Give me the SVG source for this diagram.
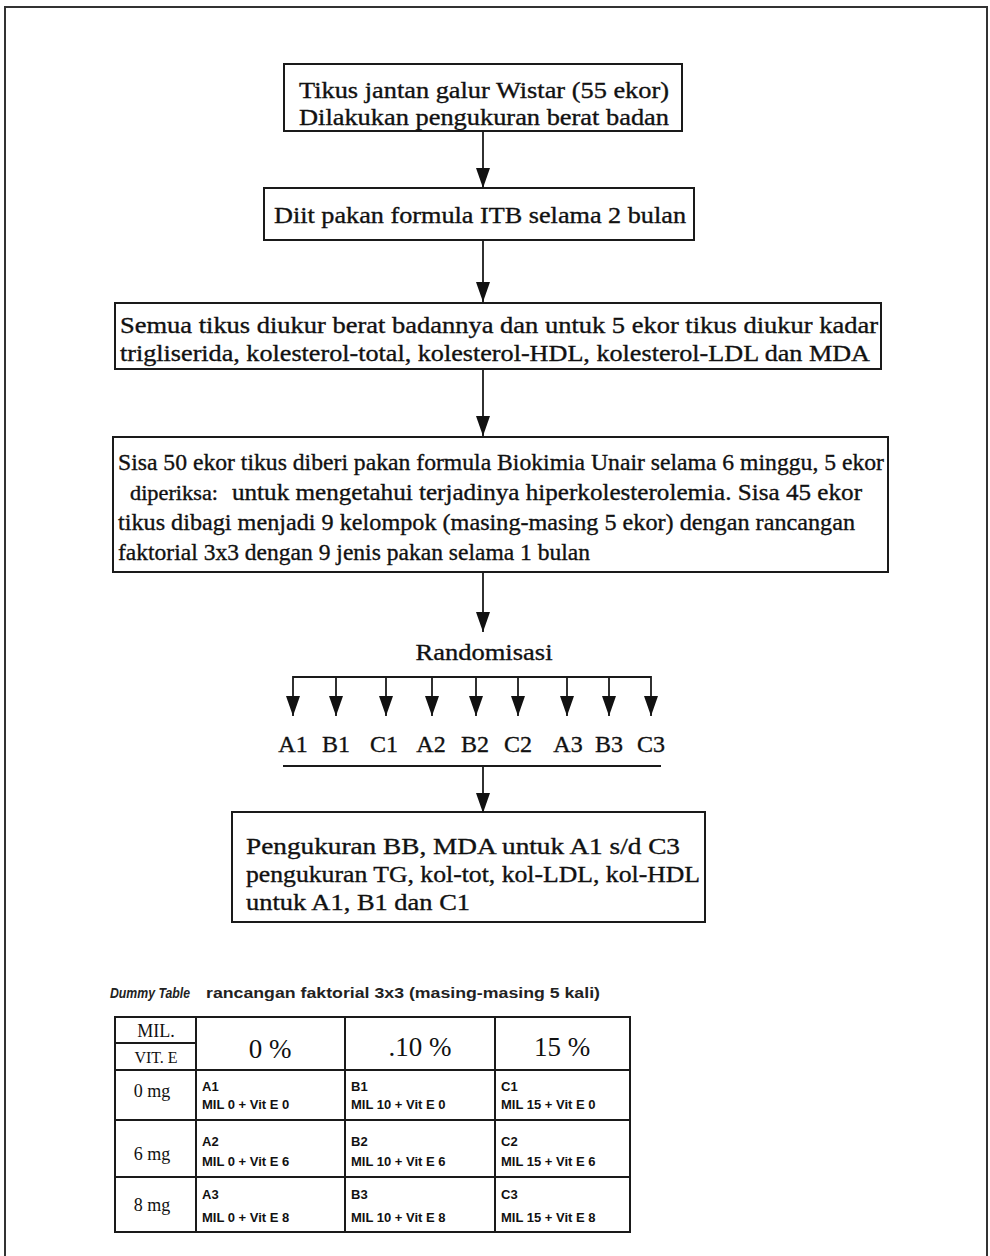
<svg xmlns="http://www.w3.org/2000/svg" width="990" height="1256" viewBox="0 0 990 1256">
<defs>
<style>
.bx{fill:#fff;stroke:#1a1a1a;stroke-width:2}
.t{font-family:"Liberation Serif","Times New Roman",serif;font-size:24px;fill:#111;stroke:#111;stroke-width:0.35}
.tc{text-anchor:middle}
.ln{stroke:#1a1a1a;stroke-width:1.8;fill:none}
.cap{font-family:"Liberation Sans",Arial,sans-serif;font-size:14px;font-weight:bold;fill:#222}
.tb{stroke:#1a1a1a;stroke-width:2;fill:none}
.hd{font-family:"Liberation Serif","Times New Roman",serif;font-size:27px;fill:#111;text-anchor:middle}
.rl{font-family:"Liberation Serif","Times New Roman",serif;font-size:18px;fill:#111;text-anchor:middle}
.ce{font-family:"Liberation Sans",Arial,sans-serif;font-size:13px;font-weight:bold;fill:#111}
</style>
<marker id="ah" markerUnits="userSpaceOnUse" markerWidth="22" markerHeight="16" viewBox="0 -8 22 16" refX="20" refY="0" orient="auto">
<path d="M0,-7 L20,0 L0,7 z" fill="#111"/>
</marker>
</defs>
<rect width="990" height="1256" fill="#fff"/>
<path d="M5,1256 V7 H987 V1256" fill="none" stroke="#333" stroke-width="2"/>

<g id="node1">
<rect class="bx" x="284" y="64" width="398" height="67"/>
<text class="t tc" x="484" y="98" textLength="370" lengthAdjust="spacingAndGlyphs">Tikus jantan galur Wistar (55 ekor)</text>
<text class="t tc" x="484" y="125" textLength="370" lengthAdjust="spacingAndGlyphs">Dilakukan pengukuran berat badan</text>
</g>
<g id="node2">
<rect class="bx" x="264" y="188" width="430" height="52"/>
<text class="t tc" x="480" y="223" textLength="412" lengthAdjust="spacingAndGlyphs">Diit pakan formula ITB selama 2 bulan</text>
</g>
<g id="node3">
<rect class="bx" x="115" y="303" width="766" height="66"/>
<text class="t" x="120" y="333" textLength="758" lengthAdjust="spacingAndGlyphs">Semua tikus diukur berat badannya dan untuk 5 ekor tikus diukur kadar</text>
<text class="t" x="120" y="361" textLength="750" lengthAdjust="spacingAndGlyphs">trigliserida, kolesterol-total, kolesterol-HDL, kolesterol-LDL dan MDA</text>
</g>
<g id="node4">
<rect class="bx" x="113" y="437" width="775" height="135"/>
<text class="t" x="118" y="470" textLength="766" lengthAdjust="spacingAndGlyphs">Sisa 50 ekor tikus diberi pakan formula Biokimia Unair selama 6 minggu, 5 ekor</text>
<text class="t" x="130" y="500" textLength="88" lengthAdjust="spacingAndGlyphs" style="font-size:20px">diperiksa:</text>
<text class="t" x="232" y="500" textLength="630" lengthAdjust="spacingAndGlyphs">untuk mengetahui terjadinya hiperkolesterolemia. Sisa 45 ekor</text>
<text class="t" x="118" y="530" textLength="737" lengthAdjust="spacingAndGlyphs">tikus dibagi menjadi 9 kelompok (masing-masing 5 ekor) dengan rancangan</text>
<text class="t" x="118" y="560" textLength="472" lengthAdjust="spacingAndGlyphs">faktorial 3x3 dengan 9 jenis pakan selama 1 bulan</text>
</g>
<g id="node5">
<text class="t tc" x="484" y="660" textLength="137" lengthAdjust="spacingAndGlyphs">Randomisasi</text>
</g>
<g id="groups">
<text class="t tc" x="293" y="752">A1</text>
<text class="t tc" x="336" y="752">B1</text>
<text class="t tc" x="384" y="752">C1</text>
<text class="t tc" x="431" y="752">A2</text>
<text class="t tc" x="475" y="752">B2</text>
<text class="t tc" x="518" y="752">C2</text>
<text class="t tc" x="568" y="752">A3</text>
<text class="t tc" x="609" y="752">B3</text>
<text class="t tc" x="651" y="752">C3</text>
</g>
<g id="node6">
<rect class="bx" x="232" y="812" width="473" height="110"/>
<text class="t" x="246" y="854" textLength="434" lengthAdjust="spacingAndGlyphs">Pengukuran BB, MDA untuk A1 s/d C3</text>
<text class="t" x="246" y="882" textLength="454" lengthAdjust="spacingAndGlyphs">pengukuran TG, kol-tot, kol-LDL, kol-HDL</text>
<text class="t" x="246" y="910" textLength="224" lengthAdjust="spacingAndGlyphs">untuk A1, B1 dan C1</text>
</g>

<g id="connectors">
<line class="ln" x1="483" y1="131" x2="483" y2="188" marker-end="url(#ah)"/>
<line class="ln" x1="483" y1="240" x2="483" y2="302" marker-end="url(#ah)"/>
<line class="ln" x1="483" y1="369" x2="483" y2="436" marker-end="url(#ah)"/>
<line class="ln" x1="483" y1="572" x2="483" y2="632" marker-end="url(#ah)"/>
<line class="ln" x1="293" y1="677" x2="651" y2="677"/>
<line class="ln" x1="293" y1="676" x2="293" y2="716" marker-end="url(#ah)"/>
<line class="ln" x1="336" y1="677" x2="336" y2="716" marker-end="url(#ah)"/>
<line class="ln" x1="386" y1="677" x2="386" y2="716" marker-end="url(#ah)"/>
<line class="ln" x1="432" y1="677" x2="432" y2="716" marker-end="url(#ah)"/>
<line class="ln" x1="476" y1="677" x2="476" y2="716" marker-end="url(#ah)"/>
<line class="ln" x1="518" y1="677" x2="518" y2="716" marker-end="url(#ah)"/>
<line class="ln" x1="567" y1="677" x2="567" y2="716" marker-end="url(#ah)"/>
<line class="ln" x1="609" y1="677" x2="609" y2="716" marker-end="url(#ah)"/>
<line class="ln" x1="651" y1="676" x2="651" y2="716" marker-end="url(#ah)"/>
<line class="ln" x1="283" y1="766" x2="661" y2="766"/>
<line class="ln" x1="483" y1="766" x2="483" y2="813" marker-end="url(#ah)"/>
</g>

<g id="table">
<text class="cap" x="110" y="998" textLength="80" lengthAdjust="spacingAndGlyphs" font-style="italic">Dummy Table</text>
<text class="cap" x="206" y="998" textLength="394" lengthAdjust="spacingAndGlyphs">rancangan faktorial 3x3 (masing-masing 5 kali)</text>
<rect class="tb" x="115" y="1017" width="515" height="215"/>
<path class="tb" d="M196,1017 V1232 M345,1017 V1232 M495,1017 V1232 M115,1043 H196 M115,1070 H630 M115,1120 H630 M115,1177 H630"/>
<text class="rl" x="156" y="1037">MIL.</text>
<text class="rl" x="156" y="1063" style="font-size:16px">VIT. E</text>
<text class="hd" x="270" y="1058">0 %</text>
<text class="hd" x="420" y="1056">.10 %</text>
<text class="hd" x="562" y="1056">15 %</text>
<text class="rl" x="152" y="1097">0 mg</text>
<text class="rl" x="152" y="1160">6 mg</text>
<text class="rl" x="152" y="1211">8 mg</text>
<text class="ce" x="202" y="1091">A1</text>
<text class="ce" x="202" y="1109">MIL 0 + Vit E 0</text>
<text class="ce" x="351" y="1091">B1</text>
<text class="ce" x="351" y="1109">MIL 10 + Vit E 0</text>
<text class="ce" x="501" y="1091">C1</text>
<text class="ce" x="501" y="1109">MIL 15 + Vit E 0</text>
<text class="ce" x="202" y="1146">A2</text>
<text class="ce" x="202" y="1166">MIL 0 + Vit E 6</text>
<text class="ce" x="351" y="1146">B2</text>
<text class="ce" x="351" y="1166">MIL 10 + Vit E 6</text>
<text class="ce" x="501" y="1146">C2</text>
<text class="ce" x="501" y="1166">MIL 15 + Vit E 6</text>
<text class="ce" x="202" y="1199">A3</text>
<text class="ce" x="202" y="1222">MIL 0 + Vit E 8</text>
<text class="ce" x="351" y="1199">B3</text>
<text class="ce" x="351" y="1222">MIL 10 + Vit E 8</text>
<text class="ce" x="501" y="1199">C3</text>
<text class="ce" x="501" y="1222">MIL 15 + Vit E 8</text>
</g>
</svg>
